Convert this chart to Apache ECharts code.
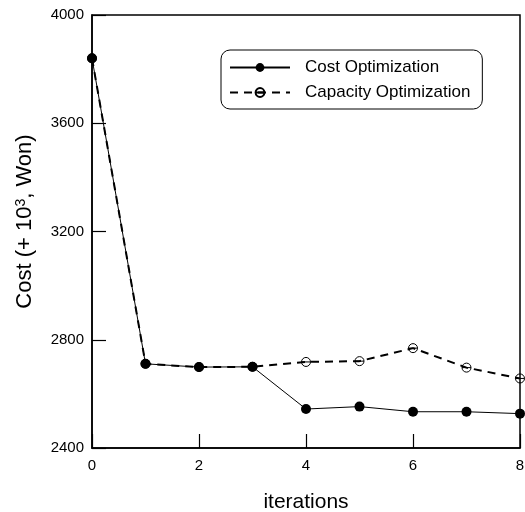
<!DOCTYPE html>
<html>
<head>
<meta charset="utf-8">
<script src="https://cdn.jsdelivr.net/npm/echarts@6/dist/echarts.min.js"></script>
<style>
  html, body { margin: 0; padding: 0; background: #fff; }
  #chart { width: 525px; height: 512px; }
</style>
</head>
<body>
<div id="chart"></div>
<script>
// Iteration index and the cost (in thousands of Won) reached at each iteration
const iterations = [0, 1, 2, 3, 4, 5, 6, 7, 8];
const costOptimization = [3840, 2711, 2699, 2700, 2544, 2553, 2534, 2534, 2527];
const capacityOptimization = [3840, 2711, 2699, 2700, 2718, 2721, 2769, 2697, 2657];

const pairs = (ys) => iterations.map((x, i) => [x, ys[i]]);

// open circle with a horizontal bar through it
const thetaSymbol = 'path://M0,10 A10,10 0 1,1 20,10 A10,10 0 1,1 0,10 Z M0,10 L20,10';

const FONT = 'Liberation Sans, Arial, sans-serif';

const chart = echarts.init(document.getElementById('chart'), null, { renderer: 'canvas' });

chart.setOption({
  animation: false,
  backgroundColor: '#ffffff',
  textStyle: { fontFamily: FONT, color: '#000' },
  grid: {
    left: 92, right: 5, top: 15, bottom: 64,
    containLabel: false,
    outerBoundsMode: 'none',
    show: true, borderColor: '#000', borderWidth: 1.5, backgroundColor: 'transparent'
  },
  legend: {
    orient: 'vertical',
    left: 221, top: 50,
    backgroundColor: '#fff',
    borderColor: '#000', borderWidth: 1, borderRadius: 9,
    padding: [9, 12, 8, 8],
    itemWidth: 60, itemHeight: 11, itemGap: 8,
    textStyle: { fontSize: 17, color: '#000', fontFamily: FONT, padding: [0, 0, 0, 10] },
    data: ['Cost Optimization', 'Capacity Optimization']
  },
  xAxis: {
    type: 'value',
    min: 0, max: 8, interval: 2,
    name: 'iterations',
    nameLocation: 'middle',
    nameGap: 44,
    nameTextStyle: { fontSize: 21, color: '#000' },
    axisLine: { lineStyle: { color: '#000', width: 1.5 } },
    axisTick: { inside: true, length: 14, lineStyle: { color: '#000', width: 1.2 } },
    axisLabel: { fontSize: 15, color: '#000', margin: 10, formatter: (v) => String(v) },
    splitLine: { show: false }
  },
  yAxis: {
    type: 'value',
    min: 2400, max: 4000, interval: 400,
    name: 'Cost (+ 10{sup|3}, Won)',
    nameLocation: 'middle',
    nameGap: 56,
    nameTextStyle: {
      fontSize: 22, color: '#000', padding: [0, 0, 0, 20],
      rich: { sup: { fontSize: 14, verticalAlign: 'top', lineHeight: 14 } }
    },
    axisLine: { show: true, lineStyle: { color: '#000', width: 1.5 } },
    axisTick: { show: true, inside: true, length: 14, lineStyle: { color: '#000', width: 1.2 } },
    axisLabel: { fontSize: 15, color: '#000', margin: 8, formatter: (v) => String(v) },
    splitLine: { show: false }
  },
  series: [
    {
      name: 'Capacity Optimization',
      type: 'line',
      data: pairs(capacityOptimization),
      symbol: thetaSymbol,
      symbolSize: 9,
      showAllSymbol: true,
      lineStyle: { color: '#000', width: 2, type: [8, 6] },
      itemStyle: { color: 'rgba(255,255,255,0)', borderColor: '#000', borderWidth: 1 },
      z: 2
    },
    {
      name: 'Cost Optimization',
      type: 'line',
      data: pairs(costOptimization),
      symbol: 'circle',
      symbolSize: 10,
      showAllSymbol: true,
      lineStyle: { color: '#000', width: 1 },
      itemStyle: { color: '#000', borderColor: '#000', borderWidth: 0 },
      z: 3
    }
  ]
});
</script>
</body>
</html>
